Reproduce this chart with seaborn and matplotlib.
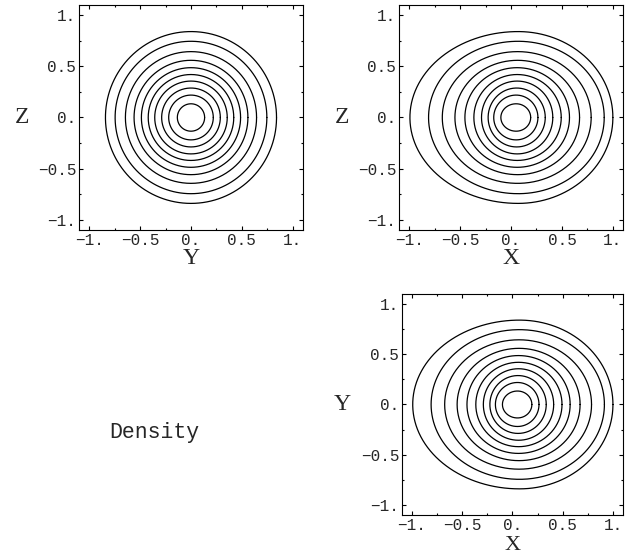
import numpy as np
import pandas as pd
import matplotlib
matplotlib.use("Agg")
import matplotlib.pyplot as plt
import seaborn as sns

# Density iso-levels, inner to outer.
# Y-Z section: contours are circles of these radii.
yz_radius = [0.134, 0.219, 0.288, 0.356, 0.420, 0.487, 0.559, 0.644, 0.745, 0.840]

# X-Z and X-Y sections: each contour crosses the X axis at x_left / x_right,
# reaches its largest height half_height at x = x_peak.
x_left = [-0.100, -0.170, -0.225, -0.290, -0.365, -0.453, -0.551, -0.675, -0.810, -0.993]
x_right = [0.193, 0.264, 0.336, 0.410, 0.493, 0.574, 0.673, 0.787, 0.915, 1.000]
x_peak = [0.050, 0.050, 0.055, 0.060, 0.060, 0.060, 0.065, 0.065, 0.070, 0.070]
half_height = yz_radius

tick_values = [-1.0, -0.5, 0.0, 0.5, 1.0]
tick_labels = ["\u22121.", "\u22120.5", "0.", "0.5", "1."]
minor_values = [-0.75, -0.25, 0.25, 0.75]

sns.set_style("ticks")
plt.rcParams["font.family"] = ["Liberation Mono", "DejaVu Sans Mono"]

theta = np.linspace(0.0, 2.0 * np.pi, 401)


def circle_frame(radii):
    rows = []
    for i, r in enumerate(radii):
        rows.append(pd.DataFrame({"h": r * np.cos(theta),
                                  "v": r * np.sin(theta),
                                  "level": i}))
    return pd.concat(rows, ignore_index=True)


def egg_frame(left, right, peak, height):
    rows = []
    for i, (l, r, c, b) in enumerate(zip(left, right, peak, height)):
        ct = np.cos(theta)
        a = np.where(ct >= 0, r - c, c - l)
        rows.append(pd.DataFrame({"h": c + a * ct,
                                  "v": b * np.sin(theta),
                                  "level": i}))
    return pd.concat(rows, ignore_index=True)


def style_axes(ax, xlabel, ylabel, xlab_y, ylab_x, label_size=17):
    ax.set_xlim(-1.1, 1.1)
    ax.set_ylim(-1.1, 1.1)
    ax.set_xticks(tick_values)
    ax.set_yticks(tick_values)
    ax.set_xticklabels(tick_labels)
    ax.set_yticklabels(tick_labels)
    ax.set_xticks(minor_values, minor=True)
    ax.set_yticks(minor_values, minor=True)
    ax.tick_params(which="both", direction="in", top=True, right=True,
                   width=0.8, color="black", labelsize=11.5, pad=2)
    ax.tick_params(which="major", length=2.6)
    ax.tick_params(which="minor", length=1.5)
    for s in ax.spines.values():
        s.set_linewidth(0.8)
        s.set_color("black")
    ax.set_xlabel(xlabel, family="Liberation Serif", fontsize=label_size)
    ax.set_ylabel(ylabel, family="Liberation Serif", fontsize=17, rotation=0)
    ax.xaxis.label.set_va("center")
    ax.yaxis.label.set_va("center")
    ax.yaxis.label.set_ha("center")
    ax.xaxis.set_label_coords(0.5, xlab_y)
    ax.yaxis.set_label_coords(ylab_x, 0.5)


fig = plt.figure(figsize=(6.41, 5.6), dpi=100)
ax_yz = fig.add_axes([0.1232, 0.5893, 0.3495, 0.4018])
ax_xz = fig.add_axes([0.6225, 0.5893, 0.3495, 0.4018])
ax_xy = fig.add_axes([0.6271, 0.0804, 0.3448, 0.3946])

df_yz = circle_frame(yz_radius)
df_xz = egg_frame(x_left, x_right, x_peak, half_height)

line_kw = dict(x="h", y="v", units="level", estimator=None, sort=False,
               color="black", linewidth=0.9, legend=False)
sns.lineplot(data=df_yz, ax=ax_yz, **line_kw)
sns.lineplot(data=df_xz, ax=ax_xz, **line_kw)
sns.lineplot(data=df_xz, ax=ax_xy, **line_kw)

style_axes(ax_yz, "Y", "Z", -0.128, -0.254)
style_axes(ax_xz, "X", "Z", -0.128, -0.254)
style_axes(ax_xy, "X", "Y", -0.14, -0.271, label_size=16)

fig.text(154 / 641, 1 - 438.3 / 560, "Density", ha="center", va="baseline",
         family="Liberation Mono", fontsize=15.5)

fig.savefig("out.png", dpi=100)
